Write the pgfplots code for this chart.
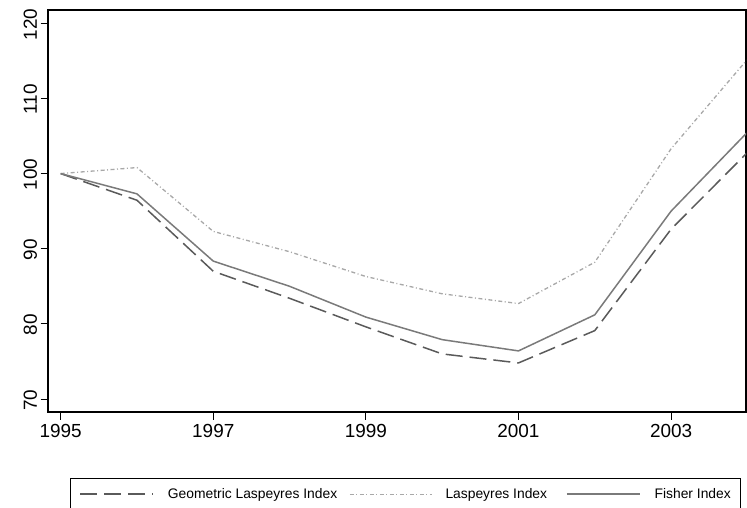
\documentclass[border=0pt]{standalone}
\usepackage{fontspec}
\setmainfont{Liberation Sans}
\usepackage{pgfplots}
\pgfplotsset{compat=1.18}
\definecolor{geo}{HTML}{5A5A5A}
\definecolor{fis}{HTML}{7A7A7A}
\definecolor{las}{HTML}{A8A8A8}
\begin{document}
\begin{tikzpicture}
\useasboundingbox (0bp,0bp) rectangle (747bp,508bp);
\begin{axis}[
  at={(48bp,96bp)}, anchor=south west,
  scale only axis, width=698bp, height=402bp,
  xmin=1994.834, xmax=2003.982,
  ymin=68.27, ymax=121.77,
  clip=true,
  axis line style={black, line width=1.1bp},
  tick style={black, line width=0.9bp},
  tick align=outside, tick pos=left,
  major tick length=7.5bp,
  xtick={1995,1997,1999,2001,2003},
  ytick={70,80,90,100,110,120},
  /pgf/number format/assume math mode=true,
  /pgf/number format/1000 sep={},
  tick label style={font=\fontsize{19}{22}\selectfont},
  xticklabel style={yshift=-1bp},
  yticklabel style={rotate=90, anchor=south, xshift=-1bp},
  legend columns=3,
  legend style={at={(0.0315,-0.1642)}, anchor=north west,
    draw=black, line width=0.8bp,
    font=\fontsize{13.9}{16}\selectfont,
    inner xsep=0bp, inner ysep=8bp,
    nodes={inner xsep=0bp, inner ysep=2bp},
    column sep=0pt},
  legend image code/.code={\path (0bp,0bp) (96bp,0bp); \draw[#1] (9bp,0bp) -- (82bp,0bp);},
]
\addplot[geo, line width=1.5bp, dash pattern=on 17bp off 7bp] coordinates {
(1995,100) (1996,96.45) (1997,87.0) (1998,83.4) (1999,79.6) (2000,76.0) (2001,74.8) (2002,79.1) (2003,92.6) (2004,102.8)};
\addlegendentry{Geometric Laspeyres Index\kern3bp}
\addplot[las, line width=1.3bp, dash pattern=on 4bp off 2.5bp on 1bp off 2.5bp,
  legend image code/.code={\path (0bp,0bp) (104bp,0bp); \draw[las, line width=1.3bp, dash pattern=on 4bp off 2.5bp on 1bp off 2.5bp] (9bp,0bp) -- (91bp,0bp);}] coordinates {
(1995,100) (1996,100.8) (1997,92.3) (1998,89.6) (1999,86.3) (2000,84.0) (2001,82.7) (2002,88.2) (2003,103.3) (2004,115.2)};
\addlegendentry{Laspeyres Index\kern10bp}
\addplot[fis, line width=1.5bp] coordinates {
(1995,100) (1996,97.3) (1997,88.35) (1998,85.0) (1999,80.9) (2000,77.9) (2001,76.4) (2002,81.2) (2003,95.0) (2004,105.5)};
\addlegendentry{Fisher Index\kern10bp}
\end{axis}
\end{tikzpicture}
\end{document}
